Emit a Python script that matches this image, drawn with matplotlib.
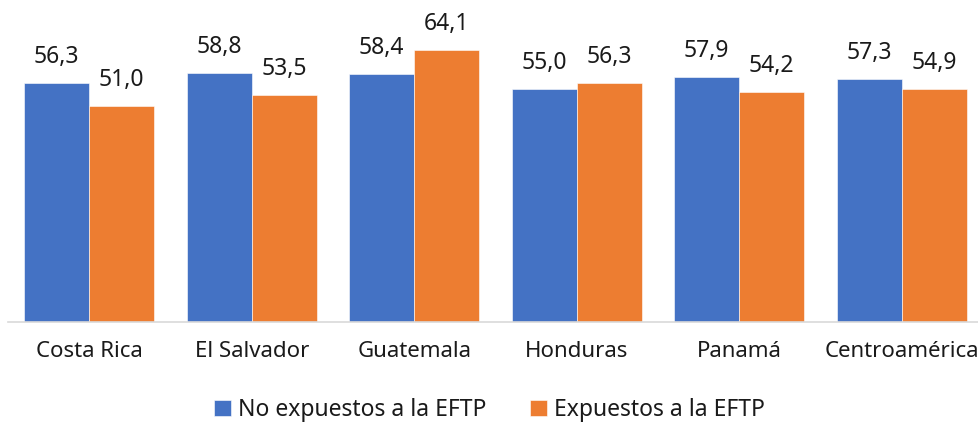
import matplotlib
matplotlib.use("Agg")
import matplotlib.pyplot as plt
import numpy as np

plt.rcParams["font.family"] = ["Noto Sans", "DejaVu Sans"]

paises = ["Costa Rica", "El Salvador", "Guatemala", "Honduras", "Panamá", "Centroamérica"]
no_expuestos = [56.3, 58.8, 58.4, 55.0, 57.9, 57.3]
expuestos = [51.0, 53.5, 64.1, 56.3, 54.2, 54.9]
series_labels = ["No expuestos a la EFTP", "Expuestos a la EFTP"]

BLUE = "#4472C4"
ORANGE = "#ED7D31"

W, H = 979, 422
fig = plt.figure(figsize=(W / 100, H / 100), dpi=100)
ax = fig.add_axes([8 / W, 100 / H, 971 / W, 302 / H])

x = np.arange(len(paises))
bw = 0.4
b1 = ax.bar(x - bw / 2, no_expuestos, bw, color=BLUE, edgecolor="white", linewidth=0.4,
            label=series_labels[0])
b2 = ax.bar(x + bw / 2, expuestos, bw, color=ORANGE, edgecolor="white", linewidth=0.4,
            label=series_labels[1])

for bars, vals in [(b1, no_expuestos), (b2, expuestos)]:
    for r, v in zip(bars, vals):
        ax.annotate(f"{v:.1f}".replace(".", ","), (r.get_x() + r.get_width() / 2, v),
                    xytext=(0, 10), textcoords="offset points",
                    ha="center", va="bottom", fontsize=16.5, color="#1a1a1a")

ax.set_xlim(-0.5, 5.5 - 4 / 162.5)
ax.set_ylim(0, 302 / 4.24)
ax.set_xticks(x)
ax.set_xticklabels(paises, fontsize=16, color="#1a1a1a")
ax.tick_params(axis="x", length=0, pad=14)
ax.set_yticks([])
for s in ["top", "right", "left"]:
    ax.spines[s].set_visible(False)
ax.spines["bottom"].set_color("#d9d9d9")
ax.spines["bottom"].set_linewidth(1.2)

fig.legend(loc="center", bbox_to_anchor=(0.5, 12 / H), ncol=2, frameon=False,
           fontsize=16.5, handlelength=0.75, handleheight=0.75, handletextpad=0.3,
           columnspacing=1.9, labelcolor="#1a1a1a")

fig.savefig("out.png", dpi=100, facecolor="white")
